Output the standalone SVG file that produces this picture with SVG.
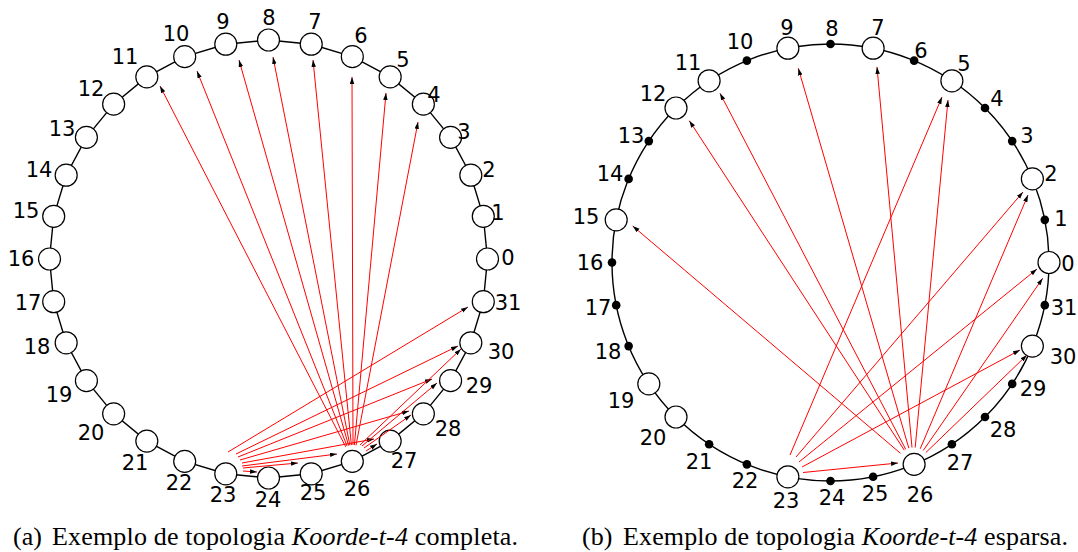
<svg xmlns="http://www.w3.org/2000/svg" width="1078" height="552" viewBox="0 0 1078 552">
<style>
.ring{fill:none;stroke:#000;stroke-width:1.4}
.o{fill:#fff;stroke:#000;stroke-width:1.2}
.d{fill:#000}
.l{font-family:"DejaVu Sans",sans-serif;font-size:21px;text-anchor:middle;fill:#000}
.e{stroke:#f00;stroke-width:1;fill:none;marker-end:url(#ah)}
.cap{font-family:"Liberation Serif",serif;font-size:26px;fill:#000}
</style>
<defs>
<marker id="ah" markerUnits="userSpaceOnUse" markerWidth="7" markerHeight="5" refX="7" refY="2.25" orient="auto">
<path d="M0,0 L7,2.25 L0,4.5 z" fill="#000"/>
</marker>
</defs>
<rect width="1078" height="552" fill="#fff"/>
<g id="ringA">
<polygon class="ring" points="487.5,259 483.29,216.28 470.83,175.19 450.59,137.33 423.36,104.14 390.17,76.91 352.31,56.67 311.22,44.21 268.5,40 225.78,44.21 184.69,56.67 146.83,76.91 113.64,104.14 86.41,137.33 66.17,175.19 53.71,216.28 49.5,259 53.71,301.72 66.17,342.81 86.41,380.67 113.64,413.86 146.83,441.09 184.69,461.33 225.78,473.79 268.5,478 311.22,473.79 352.31,461.33 390.17,441.09 423.36,413.86 450.59,380.67 470.83,342.81 483.29,301.72"/>
</g>
<g id="ringB"><circle class="ring" cx="830.5" cy="262.5" r="218.5"/></g>
<g id="nodesA">
<g id="a0"><circle class="o" cx="487.5" cy="259" r="11"/><text class="l" x="508" y="264.6">0</text></g>
<g id="a1"><circle class="o" cx="483.29" cy="216.28" r="11"/><text class="l" x="498" y="219.6">1</text></g>
<g id="a2"><circle class="o" cx="470.83" cy="175.19" r="11"/><text class="l" x="489" y="176.6">2</text></g>
<g id="a3"><circle class="o" cx="450.59" cy="137.33" r="11"/><text class="l" x="464" y="138.6">3</text></g>
<g id="a4"><circle class="o" cx="423.36" cy="104.14" r="11"/><text class="l" x="434" y="101.6">4</text></g>
<g id="a5"><circle class="o" cx="390.17" cy="76.91" r="11"/><text class="l" x="403" y="66.6">5</text></g>
<g id="a6"><circle class="o" cx="352.31" cy="56.67" r="11"/><text class="l" x="361" y="42.6">6</text></g>
<g id="a7"><circle class="o" cx="311.22" cy="44.21" r="11"/><text class="l" x="315" y="28.6">7</text></g>
<g id="a8"><circle class="o" cx="268.5" cy="40" r="11"/><text class="l" x="269" y="24.6">8</text></g>
<g id="a9"><circle class="o" cx="225.78" cy="44.21" r="11"/><text class="l" x="223" y="28.6">9</text></g>
<g id="a10"><circle class="o" cx="184.69" cy="56.67" r="11"/><text class="l" x="176" y="40.6">10</text></g>
<g id="a11"><circle class="o" cx="146.83" cy="76.91" r="11"/><text class="l" x="125" y="63.6">11</text></g>
<g id="a12"><circle class="o" cx="113.64" cy="104.14" r="11"/><text class="l" x="91" y="95.6">12</text></g>
<g id="a13"><circle class="o" cx="86.41" cy="137.33" r="11"/><text class="l" x="62" y="135.6">13</text></g>
<g id="a14"><circle class="o" cx="66.17" cy="175.19" r="11"/><text class="l" x="39" y="176.6">14</text></g>
<g id="a15"><circle class="o" cx="53.71" cy="216.28" r="11"/><text class="l" x="26" y="217.6">15</text></g>
<g id="a16"><circle class="o" cx="49.5" cy="259" r="11"/><text class="l" x="21" y="265.6">16</text></g>
<g id="a17"><circle class="o" cx="53.71" cy="301.72" r="11"/><text class="l" x="28" y="309.6">17</text></g>
<g id="a18"><circle class="o" cx="66.17" cy="342.81" r="11"/><text class="l" x="37" y="353.6">18</text></g>
<g id="a19"><circle class="o" cx="86.41" cy="380.67" r="11"/><text class="l" x="59" y="401.6">19</text></g>
<g id="a20"><circle class="o" cx="113.64" cy="413.86" r="11"/><text class="l" x="91" y="439.6">20</text></g>
<g id="a21"><circle class="o" cx="146.83" cy="441.09" r="11"/><text class="l" x="135" y="469.6">21</text></g>
<g id="a22"><circle class="o" cx="184.69" cy="461.33" r="11"/><text class="l" x="179" y="489.6">22</text></g>
<g id="a23"><circle class="o" cx="225.78" cy="473.79" r="11"/><text class="l" x="223" y="501.6">23</text></g>
<g id="a24"><circle class="o" cx="268.5" cy="478" r="11"/><text class="l" x="268" y="506.6">24</text></g>
<g id="a25"><circle class="o" cx="311.22" cy="473.79" r="11"/><text class="l" x="313" y="499.6">25</text></g>
<g id="a26"><circle class="o" cx="352.31" cy="461.33" r="11"/><text class="l" x="357" y="495.6">26</text></g>
<g id="a27"><circle class="o" cx="390.17" cy="441.09" r="11"/><text class="l" x="404" y="467.6">27</text></g>
<g id="a28"><circle class="o" cx="423.36" cy="413.86" r="11"/><text class="l" x="448" y="435.6">28</text></g>
<g id="a29"><circle class="o" cx="450.59" cy="380.67" r="11"/><text class="l" x="479" y="392.6">29</text></g>
<g id="a30"><circle class="o" cx="470.83" cy="342.81" r="11"/><text class="l" x="501" y="358.6">30</text></g>
<g id="a31"><circle class="o" cx="483.29" cy="301.72" r="11"/><text class="l" x="508" y="309.6">31</text></g>
</g>
<g id="nodesB">
<g id="b0"><circle class="o" cx="1049" cy="262.5" r="11"/><text class="l" x="1068" y="270.6">0</text></g>
<g id="b1"><circle class="d" cx="1044.8" cy="219.87" r="4.3"/><text class="l" x="1061" y="225.6">1</text></g>
<g id="b2"><circle class="o" cx="1032.37" cy="178.88" r="11"/><text class="l" x="1051" y="180.6">2</text></g>
<g id="b3"><circle class="d" cx="1012.18" cy="141.11" r="4.3"/><text class="l" x="1027" y="142.6">3</text></g>
<g id="b4"><circle class="d" cx="985" cy="108" r="4.3"/><text class="l" x="997" y="105.6">4</text></g>
<g id="b5"><circle class="o" cx="951.89" cy="80.82" r="11"/><text class="l" x="964" y="70.6">5</text></g>
<g id="b6"><circle class="d" cx="914.12" cy="60.63" r="4.3"/><text class="l" x="921" y="57.6">6</text></g>
<g id="b7"><circle class="o" cx="873.13" cy="48.2" r="11"/><text class="l" x="878" y="34.6">7</text></g>
<g id="b8"><circle class="d" cx="830.5" cy="44" r="4.3"/><text class="l" x="832" y="35.6">8</text></g>
<g id="b9"><circle class="o" cx="787.87" cy="48.2" r="11"/><text class="l" x="787" y="34.6">9</text></g>
<g id="b10"><circle class="d" cx="746.88" cy="60.63" r="4.3"/><text class="l" x="740" y="48.6">10</text></g>
<g id="b11"><circle class="o" cx="709.11" cy="80.82" r="11"/><text class="l" x="688" y="69.6">11</text></g>
<g id="b12"><circle class="o" cx="676" cy="108" r="11"/><text class="l" x="653" y="100.6">12</text></g>
<g id="b13"><circle class="d" cx="648.82" cy="141.11" r="4.3"/><text class="l" x="631" y="142.6">13</text></g>
<g id="b14"><circle class="d" cx="628.63" cy="178.88" r="4.3"/><text class="l" x="610" y="180.6">14</text></g>
<g id="b15"><circle class="o" cx="616.2" cy="219.87" r="11"/><text class="l" x="586" y="223.6">15</text></g>
<g id="b16"><circle class="d" cx="612" cy="262.5" r="4.3"/><text class="l" x="590" y="269.6">16</text></g>
<g id="b17"><circle class="d" cx="616.2" cy="305.13" r="4.3"/><text class="l" x="598" y="314.6">17</text></g>
<g id="b18"><circle class="d" cx="628.63" cy="346.12" r="4.3"/><text class="l" x="608" y="358.6">18</text></g>
<g id="b19"><circle class="o" cx="648.82" cy="383.89" r="11"/><text class="l" x="621" y="407.6">19</text></g>
<g id="b20"><circle class="o" cx="676" cy="417" r="11"/><text class="l" x="653" y="444.6">20</text></g>
<g id="b21"><circle class="d" cx="709.11" cy="444.18" r="4.3"/><text class="l" x="699" y="468.6">21</text></g>
<g id="b22"><circle class="d" cx="746.88" cy="464.37" r="4.3"/><text class="l" x="745" y="487.6">22</text></g>
<g id="b23"><circle class="o" cx="787.87" cy="476.8" r="11"/><text class="l" x="786" y="507.6">23</text></g>
<g id="b24"><circle class="d" cx="830.5" cy="481" r="4.3"/><text class="l" x="832" y="504.6">24</text></g>
<g id="b25"><circle class="d" cx="873.13" cy="476.8" r="4.3"/><text class="l" x="875" y="500.6">25</text></g>
<g id="b26"><circle class="o" cx="914.12" cy="464.37" r="11"/><text class="l" x="920" y="501.6">26</text></g>
<g id="b27"><circle class="d" cx="951.89" cy="444.18" r="4.3"/><text class="l" x="960" y="469.6">27</text></g>
<g id="b28"><circle class="d" cx="985" cy="417" r="4.3"/><text class="l" x="1003" y="436.6">28</text></g>
<g id="b29"><circle class="d" cx="1012.18" cy="383.89" r="4.3"/><text class="l" x="1033" y="395.6">29</text></g>
<g id="b30"><circle class="o" cx="1032.37" cy="346.12" r="11"/><text class="l" x="1063" y="363.6">30</text></g>
<g id="b31"><circle class="d" cx="1044.8" cy="305.13" r="4.3"/><text class="l" x="1064" y="314.6">31</text></g>
</g>
<g id="connectors">
<line class="e" x1="243" y1="471" x2="257" y2="472"/>
<line class="e" x1="243" y1="468" x2="298" y2="463"/>
<line class="e" x1="242" y1="466" x2="337" y2="454"/>
<line class="e" x1="242" y1="463" x2="374" y2="439"/>
<line class="e" x1="240" y1="460" x2="409" y2="411"/>
<line class="e" x1="238" y1="457" x2="432" y2="379"/>
<line class="e" x1="236" y1="454" x2="458" y2="346"/>
<line class="e" x1="228" y1="452" x2="468" y2="307"/>
<line class="e" x1="366" y1="451" x2="377" y2="444"/>
<line class="e" x1="364" y1="448" x2="411" y2="415"/>
<line class="e" x1="362" y1="446" x2="437" y2="383"/>
<line class="e" x1="360" y1="445" x2="461" y2="349"/>
<line class="e" x1="356" y1="445.3" x2="418" y2="122"/>
<line class="e" x1="354.4" y1="445.1" x2="386" y2="93"/>
<line class="e" x1="353" y1="445" x2="352" y2="77"/>
<line class="e" x1="351.4" y1="445.1" x2="313" y2="60"/>
<line class="e" x1="349.9" y1="445.3" x2="273" y2="57"/>
<line class="e" x1="348.6" y1="445.6" x2="239" y2="60"/>
<line class="e" x1="347.1" y1="446.1" x2="197" y2="71"/>
<line class="e" x1="345.7" y1="446.8" x2="160" y2="86"/>
<line class="e" x1="803" y1="472.5" x2="898" y2="463"/>
<line class="e" x1="802" y1="467" x2="1020" y2="350"/>
<line class="e" x1="799" y1="462" x2="1037" y2="269"/>
<line class="e" x1="796" y1="457" x2="1023" y2="192"/>
<line class="e" x1="790" y1="455" x2="942" y2="97"/>
<line class="e" x1="925.8" y1="452.6" x2="1027" y2="355"/>
<line class="e" x1="923.3" y1="450.4" x2="1042.7" y2="278.3"/>
<line class="e" x1="920.2" y1="448.8" x2="1028" y2="195"/>
<line class="e" x1="915.2" y1="447.5" x2="948" y2="100"/>
<line class="e" x1="912" y1="447.5" x2="877" y2="67"/>
<line class="e" x1="908.8" y1="448.1" x2="798.3" y2="68.3"/>
<line class="e" x1="905.7" y1="449.3" x2="720" y2="93.3"/>
<line class="e" x1="904.3" y1="450.2" x2="689.3" y2="120.7"/>
<line class="e" x1="900.6" y1="453.4" x2="632.7" y2="226"/>
</g>
<g id="captions">
<text class="cap" x="13" y="545">(a)</text>
<text class="cap" x="52" y="545" textLength="466" lengthAdjust="spacing">Exemplo de topologia <tspan font-style="italic">Koorde-t-4</tspan> completa.</text>
<text class="cap" x="582" y="545">(b)</text>
<text class="cap" x="623" y="545" textLength="445" lengthAdjust="spacing">Exemplo de topologia <tspan font-style="italic">Koorde-t-4</tspan> esparsa.</text>
</g>
</svg>
